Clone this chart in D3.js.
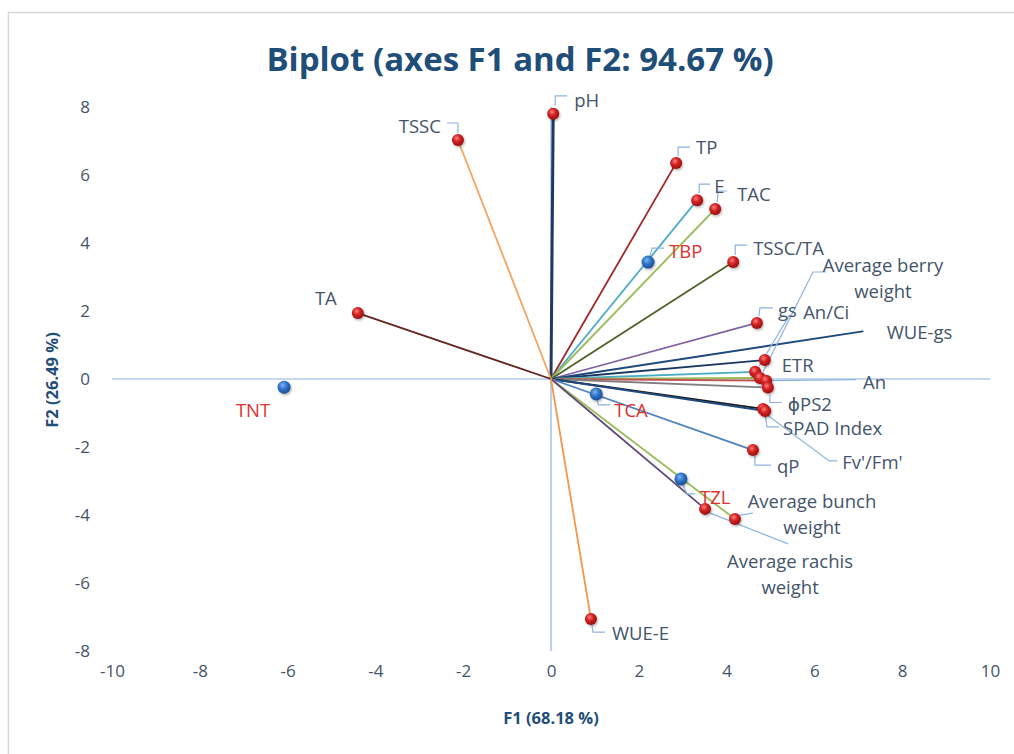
<!DOCTYPE html>
<html>
<head>
<meta charset="utf-8">
<script src="https://cdn.jsdelivr.net/npm/d3@7/dist/d3.min.js"></script>
<style>
html,body{margin:0;padding:0;background:#fff;}
svg{display:block;}
</style>
</head>
<body>
<svg id="chart" width="1014" height="754"></svg>
<script>
// ---------------- DATA ----------------
const variables = ["pH","TSSC","TP","E","TAC","TSSC/TA","TA","gs","WUE-gs","ETR","An/Ci",
  "Average berry weight","An","ϕPS2","SPAD Index","Fv'/Fm'","qP",
  "Average bunch weight","Average rachis weight","WUE-E"];
const varF1 = [0.05,-2.12,2.85,3.33,3.74,4.15,-4.40,4.69,7.10,4.87,4.65,
  4.76,4.90,4.94,4.83,4.88,4.60,4.19,3.51,0.91];
const varF2 = [7.80,7.03,6.35,5.26,5.00,3.44,1.94,1.65,1.40,0.56,0.21,
  0.03,-0.05,-0.25,-0.88,-0.94,-2.09,-4.12,-3.82,-7.06];
const observations = ["TNT","TBP","TCA","TZL"];
const obsF1 = [-6.08,2.21,1.03,2.96];
const obsF2 = [-0.24,3.44,-0.44,-2.94];
const xTicks = [-10,-8,-6,-4,-2,0,2,4,6,8,10];
const yTicks = [-8,-6,-4,-2,0,2,4,6,8];
const titleText = "Biplot (axes F1 and F2: 94.67 %)";
const xTitle = "F1 (68.18 %)";
const yTitle = "F2 (26.49 %)";

// ---------------- STYLE / LAYOUT ----------------
const lineColor = {
  "pH":"#1f3864","TSSC":"#f4a460","TP":"#a0282a","E":"#4bacc6","TAC":"#9bbb59",
  "TSSC/TA":"#4f6228","TA":"#632523","gs":"#8064a2","WUE-gs":"#1f497d","ETR":"#17375e",
  "An/Ci":"#4bacc6","Average berry weight":"#9bbb59","An":"#c0504d","ϕPS2":"#7f7f7f",
  "SPAD Index":"#1a1a1a","Fv'/Fm'":"#1f497d","qP":"#4f81bd",
  "Average bunch weight":"#9bbb59","Average rachis weight":"#604a7b","WUE-E":"#f79646"
};
const lineWidth = {"pH":3};
const noMarker = {"WUE-gs":true};
// label offsets relative to the point (px): dx,dy (text middle), anchor, leader points
const labelLayout = {
  "pH":{dx:21,dy:-15,a:"start",ld:[[2,-8],[2,-18],[14,-18]]},
  "TSSC":{dx:-17,dy:-15,a:"end",ld:[[0,-7],[0,-17],[-11,-17]]},
  "TP":{dx:20,dy:-17,a:"start",ld:[[2,-7],[2,-16],[14,-16]]},
  "E":{dx:17,dy:-15,a:"start",ld:[[2,-7],[2,-16],[13,-16]]},
  "TAC":{dx:22,dy:-16,a:"start",ld:[[2,-7],[3,-18],[12,-18]]},
  "TSSC/TA":{dx:20,dy:-15,a:"start",ld:[[2,-7],[2,-17],[14,-17]]},
  "TA":{dx:-32,dy:-16,a:"middle",ld:null},
  "gs":{dx:21,dy:-14,a:"start",ld:[[2,-7],[3,-15],[16,-15]]},
  "WUE-gs":{dx:24,dy:0,a:"start",ld:null},
  "ETR":{dx:17,dy:4,a:"start",ld:null},
  "An/Ci":{dx:48,dy:-61,a:"start",ld:[[4,-6],[34,-56]]},
  "Average berry weight":{dx:123,dy:-114,a:"middle",lines:["Average berry","weight"],ld:[[3,-6],[53,-106],[66,-106]]},
  "An":{dx:97,dy:0,a:"start",ld:[[4,0],[90,-1]]},
  "ϕPS2":{dx:20,dy:15,a:"start",ld:[[2,7],[2,15],[14,15]]},
  "SPAD Index":{dx:20,dy:18,a:"start",ld:[[2,6],[4,18],[16,18]]},
  "Fv'/Fm'":{dx:77,dy:50,a:"start",ld:[[2,4],[64,50],[72,50]]},
  "qP":{dx:24,dy:15,a:"start",ld:[[2,6],[2,15],[18,15]]},
  "Average bunch weight":{dx:77,dy:-19,a:"middle",lines:["Average bunch","weight"],ld:[[5,-4],[18,-6]]},
  "Average rachis weight":{dx:85,dy:51,a:"middle",lines:["Average rachis","weight"],ld:[[2,3],[83,35]]},
  "WUE-E":{dx:21,dy:13,a:"start",ld:[[1,6],[2,13],[14,13]]},
  "TNT":{dx:-31,dy:22,a:"middle",ld:null},
  "TBP":{dx:21,dy:-12,a:"start",ld:[[2,-6],[4,-14],[16,-14]]},
  "TCA":{dx:18,dy:15,a:"start",ld:[[1,5],[2,11],[14,11]]},
  "TZL":{dx:19,dy:17,a:"start",ld:[[2,6],[6,15],[14,15]]}
};

const FONT = "'Open Sans', 'DejaVu Sans', sans-serif";
const LABEL_SIZE = 18.5;
const svg = d3.select("#chart");

// frame
svg.append("rect").attr("x",8.5).attr("y",12.5).attr("width",1020).attr("height",760)
  .attr("fill","#fff").attr("stroke","#d9d9d9").attr("stroke-width",1.5);

const x = d3.scaleLinear().domain([-10,10]).range([112,990]);
const y = d3.scaleLinear().domain([-8,8]).range([651,107]);

// defs gradients
const defs = svg.append("defs");
const rg = defs.append("radialGradient").attr("id","redG").attr("cx","40%").attr("cy","35%").attr("r","65%");
rg.append("stop").attr("offset","0%").attr("stop-color","#ff8080");
rg.append("stop").attr("offset","45%").attr("stop-color","#d42424");
rg.append("stop").attr("offset","100%").attr("stop-color","#9a0d0d");
const bg = defs.append("radialGradient").attr("id","blueG").attr("cx","40%").attr("cy","35%").attr("r","65%");
bg.append("stop").attr("offset","0%").attr("stop-color","#7fb2f0");
bg.append("stop").attr("offset","50%").attr("stop-color","#2f72c8");
bg.append("stop").attr("offset","100%").attr("stop-color","#1b4f93");

// title
svg.append("text").attr("x",520).attr("y",71).attr("text-anchor","middle")
  .attr("font-family",FONT).attr("font-weight","700").attr("font-size",33)
  .attr("fill","#1f4e79").text(titleText);

// axes lines (through origin)
const axisCol = "#8eb4e3";
svg.append("line").attr("x1",x(-10)).attr("x2",x(10)).attr("y1",y(0)).attr("y2",y(0))
  .attr("stroke",axisCol).attr("stroke-width",1.2);
svg.append("line").attr("x1",x(0)).attr("x2",x(0)).attr("y1",y(8)).attr("y2",y(-8))
  .attr("stroke",axisCol).attr("stroke-width",1.2);

// tick labels using d3 axes (no lines)
const fmt = d => String(d);
const xAxis = d3.axisBottom(x).tickValues(xTicks).tickSize(0).tickFormat(fmt);
const gx = svg.append("g").attr("transform",`translate(0,${662})`).call(xAxis);
gx.select(".domain").remove();
gx.selectAll("text").attr("font-family",FONT).attr("font-size",17).attr("fill","#44546a");
const yAxis = d3.axisLeft(y).tickValues(yTicks).tickSize(0).tickFormat(fmt);
const gy = svg.append("g").attr("transform",`translate(${93},0)`).call(yAxis);
gy.select(".domain").remove();
gy.selectAll("text").attr("font-family",FONT).attr("font-size",17).attr("fill","#44546a");

// axis titles
svg.append("text").attr("x",551).attr("y",724).attr("text-anchor","middle")
  .attr("font-family",FONT).attr("font-weight","700").attr("font-size",16.5)
  .attr("fill","#1f4e79").text(xTitle);
svg.append("text").attr("transform",`translate(58,${380}) rotate(-90)`).attr("text-anchor","middle")
  .attr("font-family",FONT).attr("font-weight","700").attr("font-size",16.5)
  .attr("fill","#1f4e79").text(yTitle);

// vectors
const vars = variables.map((n,i)=>({name:n,f1:varF1[i],f2:varF2[i]}));
const obs = observations.map((n,i)=>({name:n,f1:obsF1[i],f2:obsF2[i]}));

svg.append("g").selectAll("line").data(vars).join("line")
  .attr("x1",x(0)).attr("y1",y(0))
  .attr("x2",d=>x(d.f1)).attr("y2",d=>y(d.f2))
  .attr("stroke",d=>lineColor[d.name]).attr("stroke-width",d=>lineWidth[d.name]||1.8)
  .attr("stroke-linecap","round");

// leaders
const all = vars.map(d=>({...d,kind:"var"})).concat(obs.map(d=>({...d,kind:"obs"})));
const leaderG = svg.append("g");
all.forEach(d=>{
  const L = labelLayout[d.name];
  if(!L || !L.ld) return;
  const px = x(d.f1), py = y(d.f2);
  const pts = L.ld.map(p=>[px+p[0],py+p[1]]);
  leaderG.append("path").attr("d",d3.line()(pts)).attr("fill","none")
    .attr("stroke","#8db3e2").attr("stroke-width",1.2);
});

// markers
const shadowF = defs.append("filter").attr("id","sh").attr("x","-50%").attr("y","-50%").attr("width","200%").attr("height","200%");
shadowF.append("feDropShadow").attr("dx",1).attr("dy",1.5).attr("stdDeviation",1).attr("flood-color","#000").attr("flood-opacity",0.3);
svg.append("g").selectAll("circle").data(vars.filter(d=>!noMarker[d.name])).join("circle")
  .attr("cx",d=>x(d.f1)).attr("cy",d=>y(d.f2)).attr("r",6)
  .attr("fill","url(#redG)").attr("filter","url(#sh)");
svg.append("g").selectAll("circle").data(obs).join("circle")
  .attr("cx",d=>x(d.f1)).attr("cy",d=>y(d.f2)).attr("r",6.5)
  .attr("fill","url(#blueG)").attr("filter","url(#sh)");

// labels
const labG = svg.append("g");
all.forEach(d=>{
  const L = labelLayout[d.name];
  const px = x(d.f1), py = y(d.f2);
  const lines = L.lines || [d.name];
  const t = labG.append("text").attr("font-family",FONT).attr("font-size",LABEL_SIZE)
    .attr("fill", d.kind==="obs" ? "#e0302e" : "#44546a")
    .attr("text-anchor",L.a).attr("dominant-baseline","central");
  lines.forEach((ln,i)=>{
    t.append("tspan").attr("x",px+L.dx).attr("y",py+L.dy+i*26).text(ln);
  });
});
</script>
</body>
</html>
